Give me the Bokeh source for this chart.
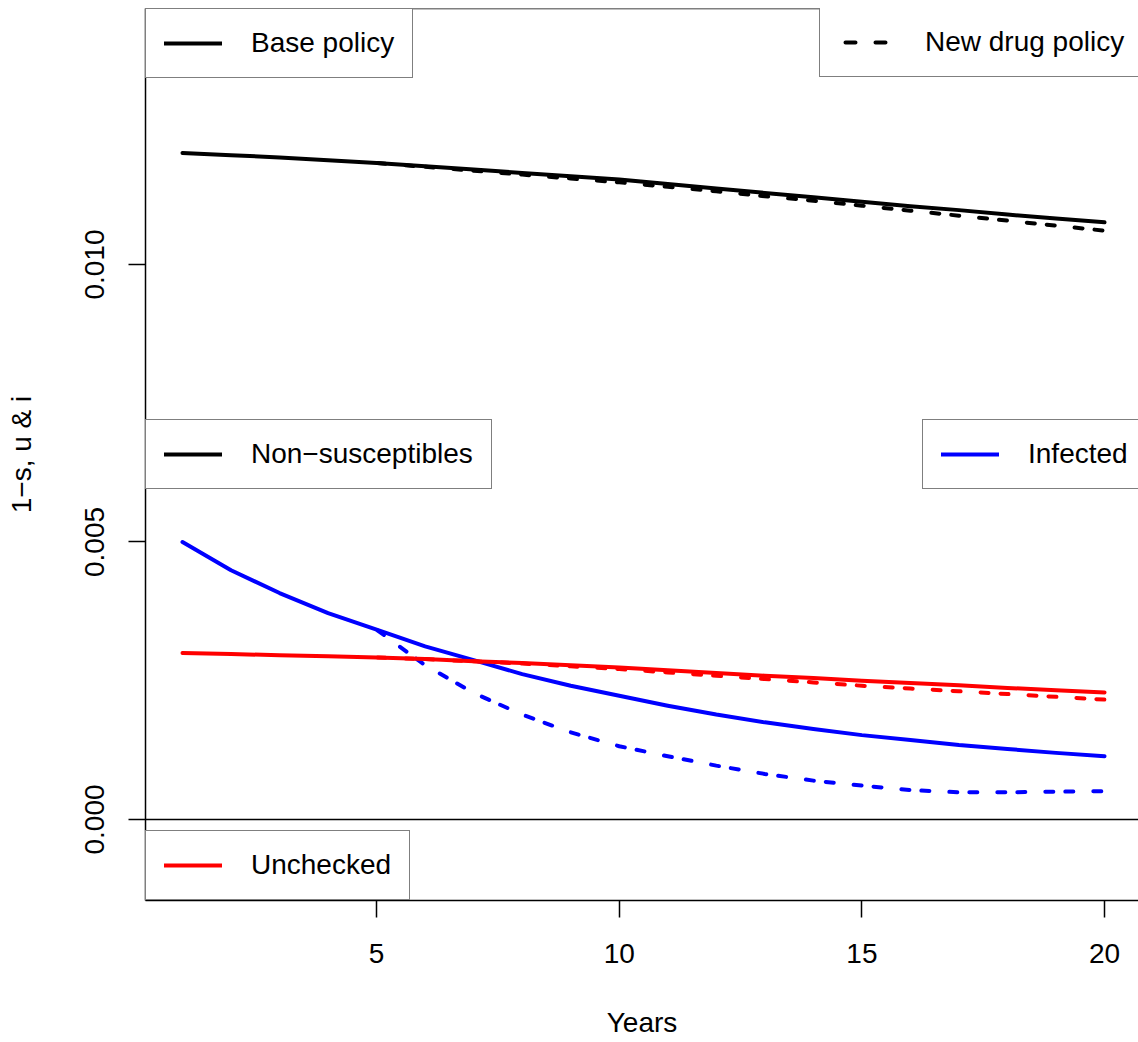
from bokeh.plotting import figure
from bokeh.models import Range1d, FixedTicker, Legend, LegendItem, Span, PrintfTickFormatter
from bokeh.embed import file_html
from bokeh.resources import INLINE

# ---- data ----
years = list(range(1, 21))
years_new = list(range(5, 21))

nonsusc_base = [0.01201, 0.01197, 0.01193, 0.01188, 0.01183, 0.01177, 0.01171, 0.01165,
                0.01159, 0.01153, 0.01145, 0.01137, 0.01129, 0.01121, 0.01113, 0.01105,
                0.01098, 0.01090, 0.01083, 0.01076]
nonsusc_new = [0.01183, 0.01176, 0.01169, 0.01162, 0.01155, 0.01148, 0.01140, 0.01132,
               0.01123, 0.01115, 0.01106, 0.01097, 0.01088, 0.01079, 0.01070, 0.01061]

infected_base = [0.00500, 0.00449, 0.00408, 0.00372, 0.00342, 0.00312, 0.00287, 0.00262,
                 0.00241, 0.00223, 0.00205, 0.00189, 0.00175, 0.00163, 0.00152, 0.00143,
                 0.00134, 0.00127, 0.00120, 0.00114]
infected_new = [0.00342, 0.00278, 0.00228, 0.00189, 0.00157, 0.00132, 0.00114, 0.00097,
                0.00082, 0.00070, 0.00061, 0.00053, 0.00049, 0.00049, 0.00050, 0.00051]

unchecked_base = [0.00300, 0.00298, 0.00296, 0.00294, 0.00292, 0.00289, 0.00285, 0.00282,
                  0.00278, 0.00274, 0.00269, 0.00264, 0.00259, 0.00255, 0.00250, 0.00246,
                  0.00242, 0.00237, 0.00233, 0.00229]
unchecked_new = [0.00292, 0.00289, 0.00285, 0.00281, 0.00276, 0.00271, 0.00265, 0.00259,
                 0.00253, 0.00247, 0.00241, 0.00236, 0.00231, 0.00226, 0.00221, 0.00216]

x_ticks = [5, 10, 15, 20]
y_ticks = [0.0, 0.005, 0.010]
x_limits = (0.2376, 20.70)
y_limits = (-0.00146, 0.014613)

FONT = "Liberation Sans"
FS = "28px"
LW = 4

p = figure(width=1138, height=1042, output_backend="svg", toolbar_location=None,
           x_range=Range1d(*x_limits), y_range=Range1d(*y_limits),
           min_border_left=145, min_border_right=0, min_border_top=8, min_border_bottom=142,
           x_axis_label="Years", y_axis_label="1\u2212s, u & i")

p.xgrid.visible = False
p.ygrid.visible = False
p.outline_line_color = None
p.background_fill_color = "white"
p.border_fill_color = "white"

p.xaxis.ticker = FixedTicker(ticks=x_ticks)
p.yaxis.ticker = FixedTicker(ticks=y_ticks)
p.yaxis.formatter = PrintfTickFormatter(format="%.3f")
p.yaxis.major_label_orientation = "vertical"

for ax in (p.xaxis[0], p.yaxis[0]):
    ax.axis_line_width = 1.5
    ax.axis_line_color = "black"
    ax.major_tick_line_width = 1.5
    ax.major_tick_line_color = "black"
    ax.major_tick_in = 0
    ax.major_tick_out = 17
    ax.minor_tick_line_color = None
    ax.major_label_text_font = FONT
    ax.major_label_text_font_size = FS
    ax.major_label_text_color = "black"
    ax.axis_label_text_font = FONT
    ax.axis_label_text_font_size = FS
    ax.axis_label_text_font_style = "normal"
    ax.axis_label_text_color = "black"

p.xaxis.major_label_standoff = 26
p.xaxis.axis_label_standoff = 41
p.yaxis.major_label_standoff = 24
p.yaxis.axis_label_standoff = 46

# top frame line and zero line
p.add_layout(Span(location=y_limits[1], dimension="width", line_color="black", line_width=1.5))
p.add_layout(Span(location=0, dimension="width", line_color="black", line_width=1.5))

DASH = "8 12 8 20"
common = dict(line_width=LW, line_cap="round", line_join="round")

r_ns = p.line(years, nonsusc_base, line_color="black", **common)
p.line(years_new, nonsusc_new, line_color="black", line_dash=DASH, line_dash_offset=19, **common)
r_inf = p.line(years, infected_base, line_color="blue", **common)
p.line(years_new, infected_new, line_color="blue", line_dash=DASH, line_dash_offset=19, **common)
r_unc = p.line(years, unchecked_base, line_color="red", **common)
p.line(years_new, unchecked_new, line_color="red", line_dash=DASH, line_dash_offset=19, **common)

# hidden copy of the new-policy line, used only for its legend key
r_new_key = p.line(years_new, nonsusc_new, line_color="black", line_dash="10 20",
                   line_dash_offset=23, visible=False, **common)


def add_legend(label, renderer, loc):
    lg = Legend(items=[LegendItem(label=label, renderers=[renderer])], location=loc,
                margin=0, padding=18, spacing=0, glyph_width=58, glyph_height=20,
                label_standoff=29, label_height=20,
                label_text_font=FONT, label_text_font_size=FS, label_text_color="black",
                border_line_color="black", border_line_width=1.5,
                background_fill_color="white", background_fill_alpha=1.0)
    p.add_layout(lg, "center")


# legend box positions (screen px from the frame's bottom-left corner)
add_legend("Base policy", r_ns, "top_left")
add_legend("New drug policy", r_new_key, (674, 823))
add_legend("Non\u2212susceptibles", r_ns, "left")
add_legend("Infected", r_inf, (777, 411))
add_legend("Unchecked", r_unc, "bottom_left")

open("out.html", "w").write(file_html(p, INLINE))
